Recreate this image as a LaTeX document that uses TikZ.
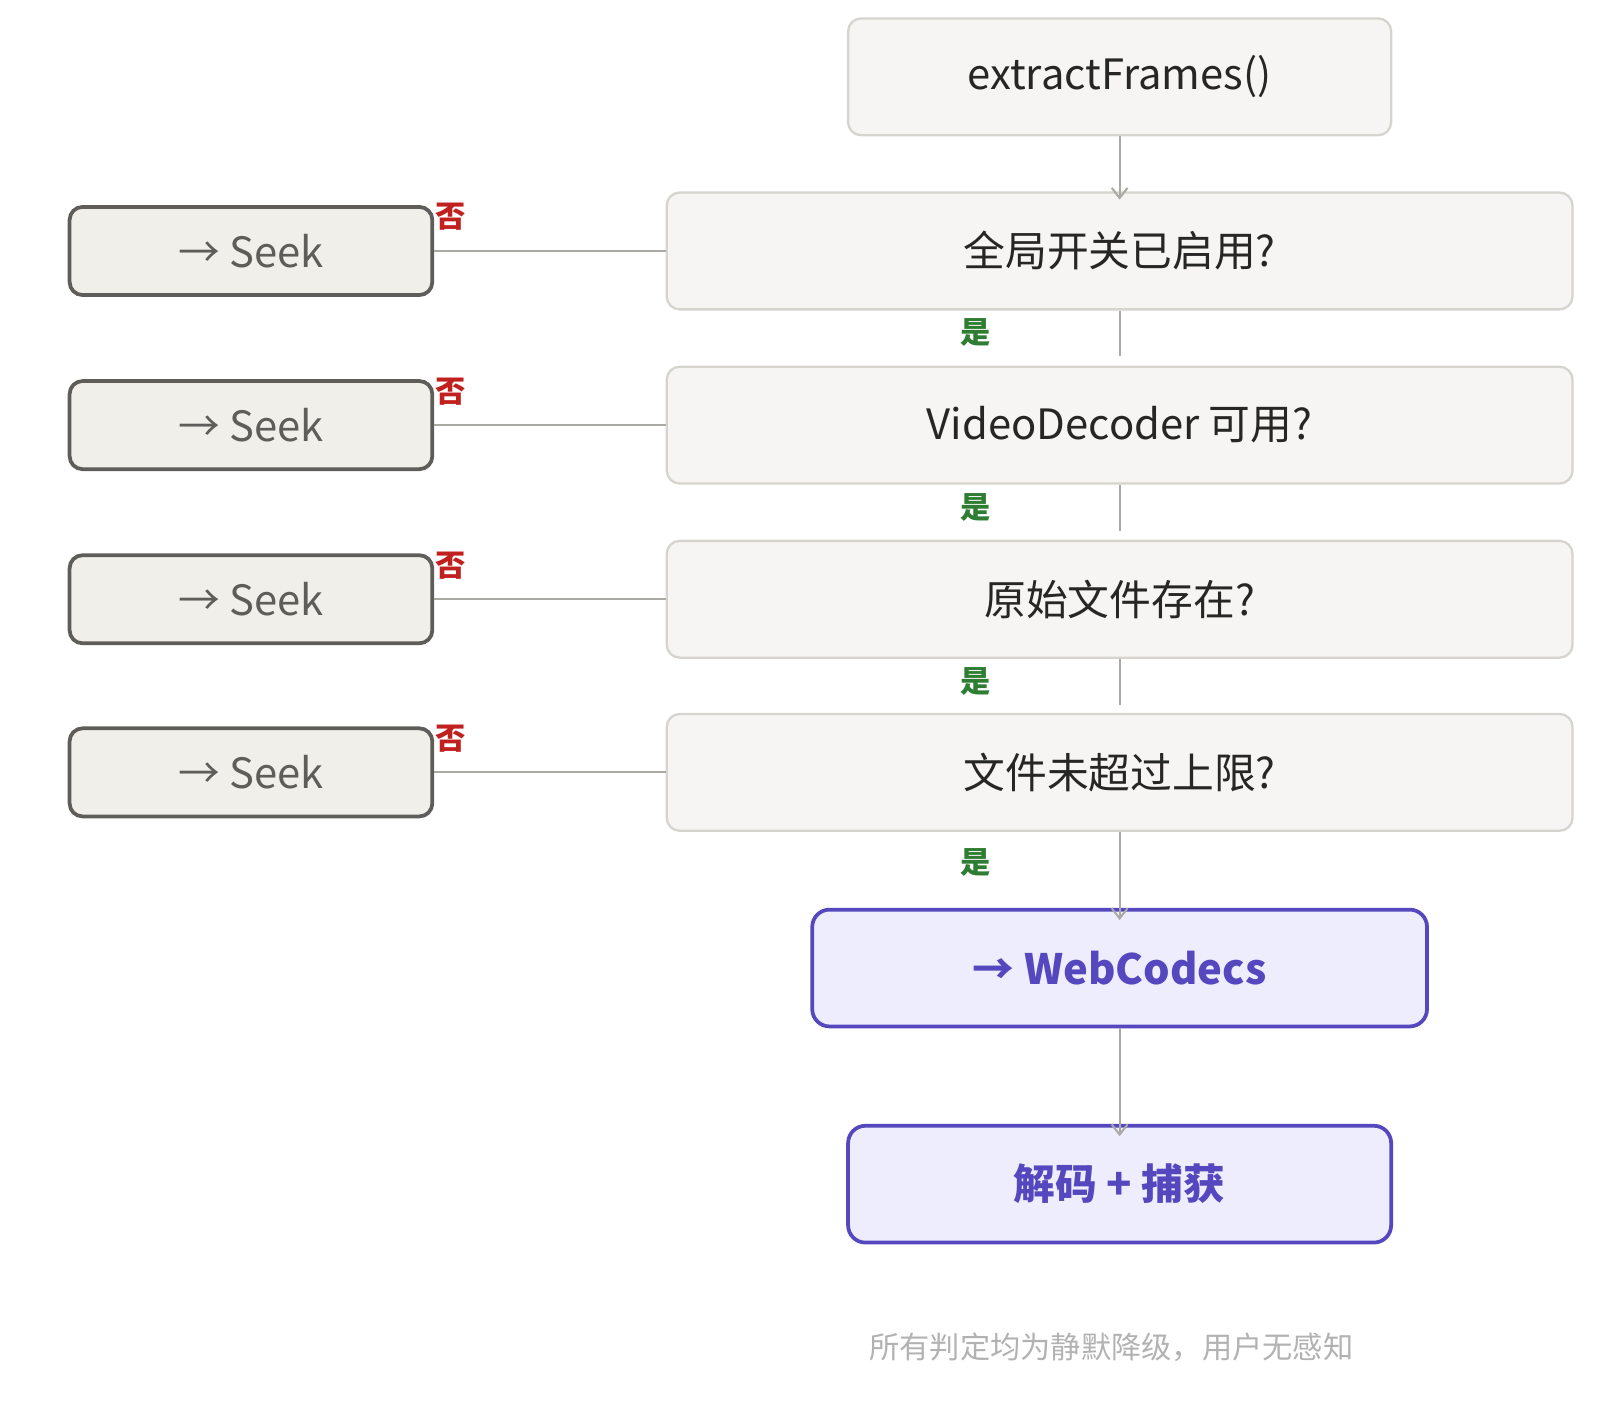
\documentclass[tikz,border=0pt]{standalone}
\usepackage{fontspec}
\setmainfont{Noto Sans CJK SC}
\usetikzlibrary{arrows.meta, positioning}
\definecolor{boxFill}{HTML}{F6F5F3}
\definecolor{boxLine}{HTML}{D6D4CE}
\definecolor{seekFill}{HTML}{F1EFE9}
\definecolor{seekLine}{HTML}{5E5D5A}
\definecolor{purpleFill}{HTML}{EEEDFD}
\definecolor{purpleLine}{HTML}{5548BE}
\definecolor{noRed}{HTML}{C0201E}
\definecolor{yesGreen}{HTML}{2E7D32}
\definecolor{connColor}{HTML}{AAA9A3}
\tikzset{arrow/.style={draw=connColor, line width=1.4pt, -{Straight Barb[length=7pt,width=11pt]}}}
\begin{document}
\begin{tikzpicture}[
    x=0.025cm, y=-0.025cm,
    check/.style={draw=boxLine, line width=1.6pt, rectangle, rounded corners=9pt, fill=boxFill, minimum height=2.85cm, font=\fontsize{29}{34}\selectfont, text=black!85},
    seek/.style={draw=seekLine, line width=2.6pt, rectangle, rounded corners=9pt, fill=seekFill, minimum width=8.85cm, minimum height=2.15cm, font=\fontsize{29}{34}\selectfont, text=seekLine},
    result/.style={draw=purpleLine, line width=2.6pt, rectangle, rounded corners=12pt, fill=purpleFill, minimum height=2.85cm, font=\fontsize{29}{34}\selectfont\bfseries, text=purpleLine},
    no/.style={font=\fontsize{21}{24}\selectfont\bfseries, text=noRed},
    yes/.style={font=\fontsize{21}{24}\selectfont\bfseries, text=yesGreen},
    line/.style={draw=connColor, line width=1.4pt}
]
\useasboundingbox (0,0) rectangle (1560,1390);

% Main chain
\node[check, minimum width=13.25cm] (start) at (1093,75) {\raisebox{-0.4cm}{extractFrames()}};
\node[check, minimum width=22.1cm] (q1) at (1093,245) {\raisebox{-0.4cm}{全局开关已启用?}};
\node[check, minimum width=22.1cm] (q2) at (1093,415) {\raisebox{-0.4cm}{VideoDecoder 可用?}};
\node[check, minimum width=22.1cm] (q3) at (1093,585) {\raisebox{-0.4cm}{原始文件存在?}};
\node[check, minimum width=22.1cm] (q4) at (1093,754) {\raisebox{-0.4cm}{文件未超过上限?}};
\node[result, minimum width=15cm] (webcodecs) at (1093,945) {\raisebox{-0.4cm}{→ WebCodecs}};
\node[result, minimum width=13.25cm] (decode) at (1093,1156) {\raisebox{-0.4cm}{解码 + 捕获}};

% Fallbacks
\foreach \i/\y in {1/245, 2/415, 3/585, 4/754} {
  \node[seek] (seek\i) at (245,\y) {\raisebox{-0.4cm}{→ Seek}};
  \node[no] (no\i) at (440,\y-33) {否};
  \draw[line] (seek\i) -- (q\i);
}

% Labels
\node[yes] (yes1) at (952,325) {是};
\node[yes] (yes2) at (952,495) {是};
\node[yes] (yes3) at (952,665) {是};
\node[yes] (yes4) at (952,842) {是};
\node[font=\fontsize{21}{24}\selectfont, text=black!30] (note) at (1085,1315) {所有判定均为静默降级，用户无感知};

% Draw lines
\coordinate (gap1) at (1093,348);
\coordinate (gap2) at (1093,518);
\coordinate (gap3) at (1093,688);
\draw[arrow] (start) -- ([yshift=-0.2cm]q1.north);
\draw[line] (q1) -- (gap1);
\draw[line] (q2) -- (gap2);
\draw[line] (q3) -- (gap3);
\draw[arrow] (q4) -- ([yshift=-0.3cm]webcodecs.north);
\draw[arrow] (webcodecs) -- ([yshift=-0.3cm]decode.north);
\end{tikzpicture}
\end{document}
